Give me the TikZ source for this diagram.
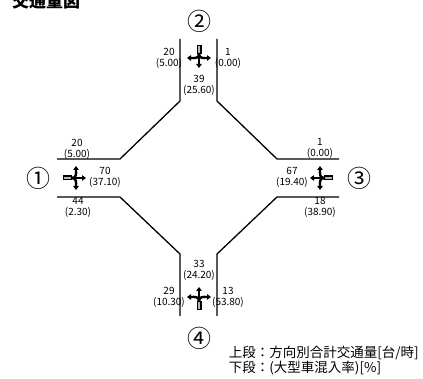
\documentclass[tikz,border=0pt]{standalone}
\usepackage{fontspec}
\setmainfont{Noto Sans CJK JP}
\usetikzlibrary{
  arrows.meta,
  positioning
}

\begin{document}
\begin{tikzpicture}
  [
    x=1pt, y=-1pt,
    road/.style={line width=1.3pt},
    flow/.style={line width=2.4pt, -{Triangle[length=4pt,width=5.5pt]}},
    vol/.style={font=\fontsize{10}{11}\selectfont, align=center, inner sep=0pt},
    approach/.style={font=\fontsize{24}{24}\selectfont, inner sep=0pt},
    legend/.style={font=\fontsize{13.5}{15}\selectfont, inner sep=0pt},
    flowicon/.pic={
      \draw[line width=5pt] (0,-12) -- (0,-3);
      \draw[line width=1.6pt, gray!55] (0,-11) -- (0,-4);
      \draw[flow] (0,-4) -- (0,11);
      \draw[flow] (0,-4) .. controls (0,2) and (-4,1) .. (-12,1);
      \draw[flow] (0,-4) .. controls (0,2) and (4,1) .. (12,1);
    },
  ]
  \useasboundingbox (0,0) rectangle (423,379);

  \node[anchor=base west, inner sep=0pt, font=\fontsize{17}{17}\selectfont\bfseries] (title) at (12,7.5) {交通量図};

  % road edges
  \coordinate (nl) at (180,39);  \coordinate (nr) at (217,39);
  \coordinate (wt) at (57,159);  \coordinate (wb) at (57,197);
  \coordinate (et) at (339,159); \coordinate (eb) at (339,197);
  \coordinate (sl) at (180,316); \coordinate (sr) at (217,316);
  \draw[road] (nl) -- (180,101) -- (120,159) -- (wt);
  \draw[road] (nr) -- (217,101) -- (277,159) -- (et);
  \draw[road] (wb) -- (120,197) -- (180,254) -- (sl);
  \draw[road] (eb) -- (277,197) -- (217,254) -- (sr);

  % approaches
  \node[approach] (app1) at (38,178) {①};
  \node[approach] (app2) at (199,21) {②};
  \node[approach] (app3) at (359,178) {③};
  \node[approach] (app4) at (199,338) {④};

  \pic (icon2) at (199,57) {flowicon};
  \pic[rotate=90] (icon1) at (75,178) {flowicon};
  \pic[rotate=-90] (icon3) at (321,178) {flowicon};
  \pic[rotate=180] (icon4) at (199,298) {flowicon};

  % volumes
  \node[vol] (n2l) at (169,58.5) {20\\(5.00)};
  \node[vol] (n2r) at (228,58.5) {1\\(0.00)};
  \node[vol] (n2m) at (199,85.5) {39\\(25.60)};
  \node[vol] (n1t) at (77,149) {20\\(5.00)};
  \node[vol] (n1m) at (105,177.5) {70\\(37.10)};
  \node[vol] (n1b) at (78,207) {44\\(2.30)};
  \node[vol] (n3t) at (320,148.5) {1\\(0.00)};
  \node[vol] (n3m) at (292,177.5) {67\\(19.40)};
  \node[vol] (n3b) at (320,207) {18\\(38.90)};
  \node[vol] (n4m) at (199,270.5) {33\\(24.20)};
  \node[vol] (n4l) at (169,297.5) {29\\(10.30)};
  \node[vol] (n4r) at (228,297.5) {13\\(53.80)};

  \node[legend, anchor=east] (upper) at (419,353) {上段：方向別合計交通量[台/時]};
  \node[legend, anchor=west] (lower) at (upper.west |- 0,368) {下段：(大型車混入率)[\%]};
\end{tikzpicture}
\end{document}
